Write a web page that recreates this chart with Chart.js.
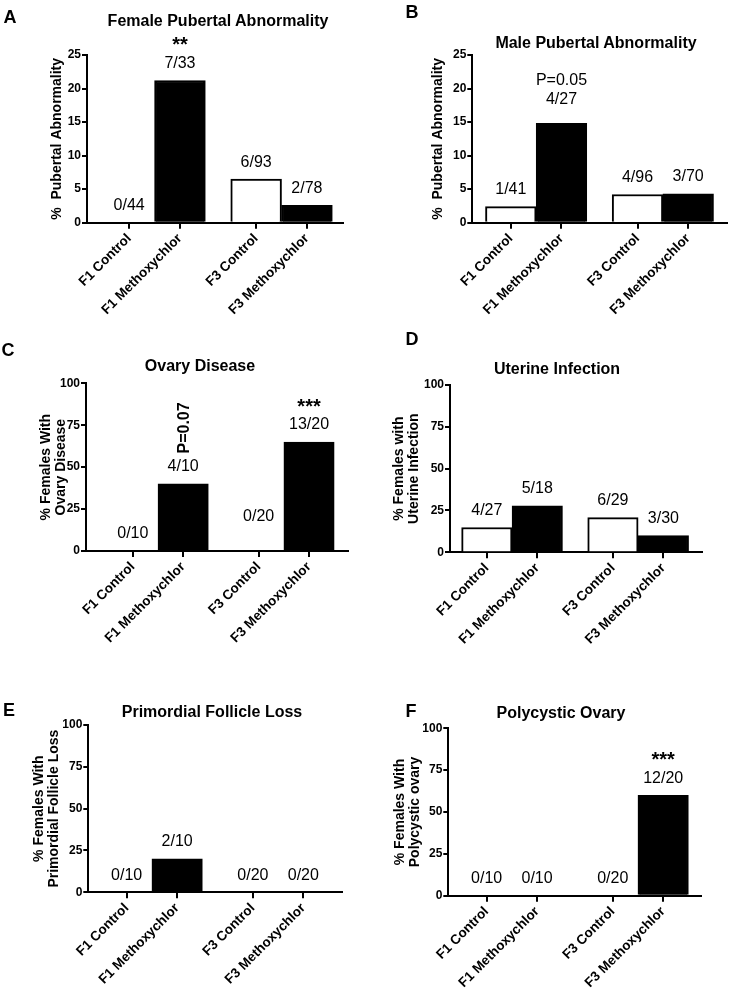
<!DOCTYPE html>
<html>
<head>
<meta charset="utf-8">
<script src="https://cdn.jsdelivr.net/npm/chart.js@4"></script>
<style>
  html, body { margin: 0; padding: 0; background: #ffffff; }
  body { position: relative; width: 731px; height: 991px; overflow: hidden; font-family: "Liberation Sans", Arial, sans-serif; color: #000; }
  canvas { position: absolute; }
  .letter { position: absolute; font-weight: bold; font-size: 18px; line-height: 1; transform: translate(-50%, -50%); }
  .title { position: absolute; font-weight: bold; font-size: 16px; line-height: 1; white-space: nowrap; transform: translate(-50%, -50%); }
</style>
</head>
<body>
<script>
// ---------------- data ----------------
const categories = ['F1 Control', 'F1 Methoxychlor', 'F3 Control', 'F3 Methoxychlor'];

const femalePubertalValues = [0, 21.2, 6.5, 2.6];
const femalePubertalCounts = ['0/44', '7/33', '6/93', '2/78'];
const femalePubertalMarks  = ['', '**', '', ''];

const malePubertalValues = [2.4, 14.8, 4.2, 4.3];
const malePubertalCounts = ['1/41', '4/27', '4/96', '3/70'];
const malePubertalMarks  = ['', 'P=0.05', '', ''];

const ovaryDiseaseValues = [0, 40, 0, 65];
const ovaryDiseaseCounts = ['0/10', '4/10', '0/20', '13/20'];
const ovaryDiseaseMarks  = ['', 'P=0.07', '', '***'];

const uterineInfectionValues = [14.8, 27.8, 20.7, 10];
const uterineInfectionCounts = ['4/27', '5/18', '6/29', '3/30'];
const uterineInfectionMarks  = ['', '', '', ''];

const follicleLossValues = [0, 20, 0, 0];
const follicleLossCounts = ['0/10', '2/10', '0/20', '0/20'];
const follicleLossMarks  = ['', '', '', ''];

const polycysticValues = [0, 0, 0, 60];
const polycysticCounts = ['0/10', '0/10', '0/20', '12/20'];
const polycysticMarks  = ['', '', '', '***'];

const pubertalTicks = [0, 5, 10, 15, 20, 25];
const percentTicks  = [0, 25, 50, 75, 100];

// ---------------- layout / style ----------------
const FONT = "'Liberation Sans', Arial, sans-serif";
const slots = [0, 1, 2.5, 3.5];            // category slots on the x scale (pairs separated by a gap)
const barFills = ['#ffffff', '#000000', '#ffffff', '#000000'];
const PW = 365, PH = 330;

const panels = [
  { letter: 'A', lx: 10, ly: 17, title: 'Female Pubertal Abnormality', tx: 218, ty: 21,
    left: 0, top: 0, area: { l: 87, t: 55, r: 343, b: 222.7 }, xRange: [-0.83, 4.21],
    values: femalePubertalValues, counts: femalePubertalCounts, marks: femalePubertalMarks,
    yTicks: pubertalTicks, yTitle: '%  Pubertal Abnormality', yTitlePad: 49.8, lift: {} },
  { letter: 'B', lx: 412, ly: 12, title: 'Male Pubertal Abnormality', tx: 596, ty: 43,
    left: 365, top: 0, area: { l: 107.3, t: 55, r: 361.7, b: 222.7 }, xRange: [-0.76, 4.26],
    values: malePubertalValues, counts: malePubertalCounts, marks: malePubertalMarks,
    yTicks: pubertalTicks, yTitle: '%  Pubertal Abnormality', yTitlePad: 65.3, lift: { 1: 24 } },
  { letter: 'C', lx: 8, ly: 350, title: 'Ovary Disease', tx: 200, ty: 366,
    left: 0, top: 330, area: { l: 86, t: 53.3, r: 348.3, b: 221 }, xRange: [-0.93, 4.28],
    values: ovaryDiseaseValues, counts: ovaryDiseaseCounts, marks: ovaryDiseaseMarks,
    yTicks: percentTicks, yTitle: ['% Females With', 'Ovary Disease'], yTitlePad: 38.3, lift: { 2: 34 }, rotateMark: true },
  { letter: 'D', lx: 412, ly: 339, title: 'Uterine Infection', tx: 557, ty: 369,
    left: 365, top: 330, area: { l: 85, t: 55, r: 336.7, b: 222.3 }, xRange: [-0.73, 4.26],
    values: uterineInfectionValues, counts: uterineInfectionCounts, marks: uterineInfectionMarks,
    yTicks: percentTicks, yTitle: ['% Females with', 'Uterine Infection'], yTitlePad: 26.3, lift: {} },
  { letter: 'E', lx: 9, ly: 710, title: 'Primordial Follicle Loss', tx: 212, ty: 712,
    left: 0, top: 660, area: { l: 88.3, t: 65, r: 341.7, b: 232.3 }, xRange: [-0.76, 4.26],
    values: follicleLossValues, counts: follicleLossCounts, marks: follicleLossMarks,
    yTicks: percentTicks, yTitle: ['% Females With', 'Primordial Follicle Loss'], yTitlePad: 31.3, lift: {} },
  { letter: 'F', lx: 411, ly: 711, title: 'Polycystic Ovary', tx: 561, ty: 713,
    left: 365, top: 660, area: { l: 83.3, t: 68.3, r: 336, b: 235.7 }, xRange: [-0.76, 4.25],
    values: polycysticValues, counts: polycysticCounts, marks: polycysticMarks,
    yTicks: percentTicks, yTitle: ['% Females With', 'Polycystic ovary'], yTitlePad: 27.3, lift: {} }
];

function notesPlugin(p) {
  return {
    id: 'barNotes',
    afterDatasetsDraw(chart) {
      const ctx = chart.ctx;
      const meta = chart.getDatasetMeta(0);
      ctx.save();
      ctx.fillStyle = '#000';
      ctx.textAlign = 'center';
      ctx.textBaseline = 'middle';
      meta.data.forEach((bar, i) => {
        const top = Math.min(bar.y, bar.base);
        const lift = p.lift[i] !== undefined ? p.lift[i] : 17;
        const cy = top - lift;
        ctx.font = '16px ' + FONT;
        ctx.fillText(p.counts[i], bar.x, cy);
        const m = p.marks[i];
        if (!m) return;
        if (m.indexOf('*') >= 0) {
          ctx.font = 'bold 20px ' + FONT;
          ctx.fillText(m, bar.x, cy - 23 + 5);
        } else if (p.rotateMark) {
          ctx.save();
          ctx.translate(bar.x + 1, cy - 39);
          ctx.rotate(-Math.PI / 2);
          ctx.font = 'bold 16px ' + FONT;
          ctx.fillText(m, 0, 0);
          ctx.restore();
        } else {
          ctx.font = '16px ' + FONT;
          ctx.fillText(m, bar.x, cy - 19);
        }
      });
      ctx.restore();
    }
  };
}

function addText(cls, text, x, y) {
  const d = document.createElement('div');
  d.className = cls;
  d.textContent = text;
  d.style.left = x + 'px';
  d.style.top = y + 'px';
  document.body.appendChild(d);
}

panels.forEach(p => {
  const canvas = document.createElement('canvas');
  canvas.width = PW; canvas.height = PH;
  canvas.style.left = p.left + 'px';
  canvas.style.top = p.top + 'px';
  canvas.style.width = PW + 'px';
  canvas.style.height = PH + 'px';
  document.body.appendChild(canvas);

  const yMax = p.yTicks[p.yTicks.length - 1];
  new Chart(canvas, {
    type: 'bar',
    data: {
      datasets: [{
        data: p.values.map((v, i) => ({ x: slots[i], y: v })),
        backgroundColor: barFills,
        borderColor: '#000',
        borderWidth: 2,
        borderSkipped: 'start',
        barPercentage: 1,
        categoryPercentage: 1
      }]
    },
    options: {
      responsive: false,
      animation: false,
      devicePixelRatio: 1,
      layout: { padding: { left: 0, top: p.area.t, right: PW - p.area.r, bottom: 0 } },
      plugins: { legend: { display: false }, tooltip: { enabled: false }, title: { display: false } },
      scales: {
        x: {
          type: 'linear',
          min: p.xRange[0], max: p.xRange[1],
          offset: false,
          afterBuildTicks: ax => { ax.ticks = slots.map(v => ({ value: v })); },
          afterFit: ax => { ax.height = PH - p.area.b; },
          grid: { display: true, offset: false, drawOnChartArea: false, drawTicks: true, tickLength: 6, tickWidth: 2, tickColor: '#000', color: '#000', lineWidth: 2 },
          border: { display: true, color: '#000', width: 2 },
          ticks: {
            autoSkip: false, maxRotation: 45, minRotation: 45, padding: 2, color: '#000',
            font: { family: FONT, size: 13.5, weight: 'bold' },
            callback: (v, i) => categories[i]
          }
        },
        y: {
          min: 0, max: yMax,
          afterBuildTicks: ax => { ax.ticks = p.yTicks.map(v => ({ value: v })); },
          afterFit: ax => { ax.width = p.area.l; },
          grid: { display: true, drawOnChartArea: false, drawTicks: true, tickLength: 5, tickWidth: 2, tickColor: '#000', color: '#000', lineWidth: 2 },
          border: { display: true, color: '#000', width: 2 },
          ticks: { padding: 1, color: '#000', font: { family: FONT, size: 12, weight: 'bold' } },
          title: {
            display: true, text: p.yTitle, color: '#000',
            font: { family: FONT, size: 14, weight: 'bold', lineHeight: 1.1 },
            padding: { top: p.yTitlePad, bottom: 0 }
          }
        }
      }
    },
    plugins: [notesPlugin(p)]
  });

  addText('letter', p.letter, p.lx, p.ly);
  addText('title', p.title, p.tx, p.ty);
});
</script>
</body>
</html>
